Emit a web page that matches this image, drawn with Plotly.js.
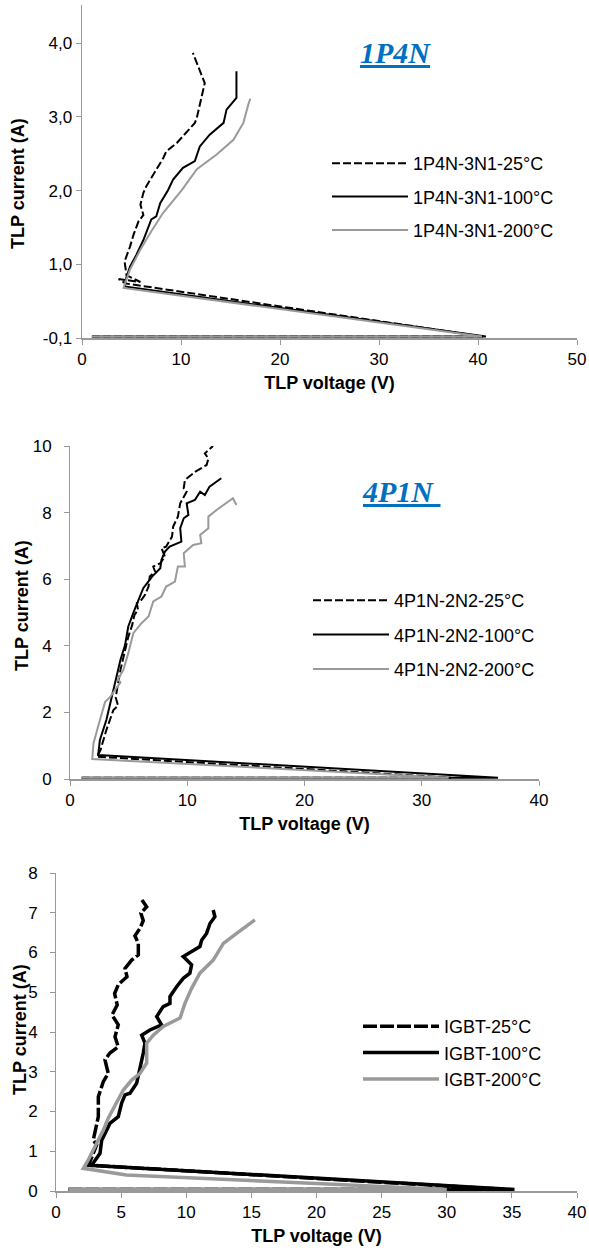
<!DOCTYPE html>
<html>
<head>
<meta charset="utf-8">
<script src="https://cdn.plot.ly/plotly-3.0.1.min.js"></script>
<style>html,body{margin:0;padding:0;background:#fff;}#chart{width:589px;height:1260px;}</style>
</head>
<body>
<div id="chart"></div>
<script>
// ---------- Chart 1: 1P4N ----------
const names1 = ["1P4N-3N1-25°C", "1P4N-3N1-100°C", "1P4N-3N1-200°C"];
const v1_25 = [1.0, 40.5, 4.4, 3.7, 5.9, 4.5, 4.3, 4.85, 5.2, 5.7, 6.2, 5.9, 6.2, 6.5, 6.9, 7.7, 8.2, 8.5, 9.6, 11.4, 11.6, 12.4, 11.2];
const i1_25 = [0.02, 0.02, 0.74, 0.80, 0.76, 0.85, 1.04, 1.24, 1.40, 1.58, 1.67, 1.81, 1.97, 2.06, 2.15, 2.33, 2.44, 2.53, 2.65, 2.92, 2.99, 3.46, 3.87];
const v1_100 = [1.0, 40.8, 4.3, 4.5, 4.85, 5.5, 6.2, 6.9, 7.0, 7.5, 7.9, 8.7, 9.2, 10.2, 11.4, 11.9, 12.9, 14.3, 14.6, 15.6, 15.6];
const i1_100 = [0.02, 0.02, 0.70, 0.83, 0.97, 1.13, 1.33, 1.56, 1.61, 1.65, 1.83, 2.01, 2.15, 2.31, 2.40, 2.60, 2.76, 2.92, 3.10, 3.26, 3.62];
const v1_200 = [1.0, 40.4, 4.2, 4.85, 5.9, 7.0, 8.2, 10.1, 11.6, 13.6, 15.3, 16.3, 16.8, 17.0];
const i1_200 = [0.02, 0.02, 0.68, 0.93, 1.20, 1.45, 1.70, 2.01, 2.29, 2.49, 2.69, 2.92, 3.17, 3.25];
const yTicks1 = [0, 1, 2, 3, 4];
const yTickText1 = ["-0,1", "1,0", "2,0", "3,0", "4,0"];

// ---------- Chart 2: 4P1N ----------
const names2 = ["4P1N-2N2-25°C", "4P1N-2N2-100°C", "4P1N-2N2-200°C"];
const v2_25 = [1.0, 32.5, 2.3, 2.6, 3.1, 3.7, 4.1, 3.9, 4.1, 4.3, 4.7, 4.97, 5.3, 5.5, 5.8, 5.7, 6.1, 6.4, 6.7, 6.8, 7.25, 7.1, 7.7, 8.1, 7.8, 8.2, 8.7, 8.8, 9.2, 9.4, 9.95, 9.7, 9.8, 10.7, 11.65, 11.8, 11.5, 12.2];
const i2_25 = [0.04, 0.04, 0.67, 0.87, 1.47, 2.07, 2.2, 2.45, 2.87, 3.27, 3.87, 4.27, 4.62, 4.93, 5.08, 5.28, 5.38, 5.53, 5.78, 6.08, 6.23, 6.38, 6.48, 6.68, 6.93, 6.98, 7.28, 7.58, 7.88, 8.28, 8.63, 8.73, 8.98, 9.23, 9.43, 9.62, 9.78, 10.0];
const v2_100 = [1.0, 36.5, 2.4, 2.55, 3.1, 3.55, 3.98, 4.3, 4.7, 4.97, 5.5, 6.25, 7.0, 7.7, 7.8, 8.1, 8.5, 9.5, 9.4, 9.7, 10.1, 9.95, 10.65, 11.1, 11.5, 11.9, 12.9];
const i2_100 = [0.04, 0.04, 0.72, 1.17, 1.77, 2.47, 3.07, 3.57, 4.03, 4.58, 5.08, 5.73, 6.08, 6.33, 6.58, 6.83, 6.98, 7.13, 7.53, 7.83, 7.93, 8.28, 8.38, 8.63, 8.53, 8.78, 9.03];
const v2_200 = [1.0, 32.3, 1.9, 2.0, 2.55, 3.0, 3.4, 3.7, 4.3, 4.1, 4.55, 4.97, 5.4, 6.1, 6.7, 7.1, 7.8, 8.2, 8.95, 9.2, 9.8, 9.7, 10.5, 11.2, 11.1, 11.8, 11.8, 12.5, 13.9, 14.2];
const i2_200 = [0.04, 0.04, 0.60, 1.07, 1.77, 2.32, 2.45, 2.60, 2.90, 3.00, 3.27, 3.78, 4.38, 4.68, 4.88, 5.33, 5.48, 5.78, 5.93, 6.38, 6.38, 6.78, 7.03, 7.08, 7.33, 7.53, 7.88, 8.08, 8.43, 8.23];

// ---------- Chart 3: IGBT ----------
const names3 = ["IGBT-25°C", "IGBT-100°C", "IGBT-200°C"];
const v3_25 = [0.95, 34.5, 2.5, 3.12, 2.86, 3.12, 3.25, 3.25, 3.63, 4.01, 3.76, 4.14, 4.78, 4.53, 4.78, 4.3, 4.7, 4.5, 4.8, 5.45, 5.3, 5.81, 6.32, 6.32, 6.06, 6.45, 6.7, 6.52, 6.96, 6.6];
const i3_25 = [0.04, 0.04, 0.65, 1.16, 1.28, 1.62, 1.87, 2.37, 2.75, 2.96, 3.30, 3.47, 3.63, 3.88, 4.18, 4.43, 4.68, 4.97, 5.20, 5.39, 5.60, 5.81, 5.94, 6.23, 6.42, 6.61, 6.80, 6.99, 7.15, 7.32];
const v3_100 = [0.95, 35.2, 2.5, 2.74, 3.38, 3.51, 3.89, 4.14, 4.78, 5.04, 5.3, 5.68, 6.19, 6.58, 6.7, 6.83, 6.58, 7.21, 8.11, 7.73, 8.23, 8.75, 8.75, 9.26, 9.77, 10.28, 10.41, 9.77, 10.54, 11.05, 11.18, 11.56, 11.82, 12.2, 12.07];
const i3_100 = [0.04, 0.04, 0.65, 0.65, 0.95, 1.28, 1.53, 1.70, 1.87, 2.21, 2.42, 2.46, 2.71, 3.25, 3.47, 3.72, 3.92, 4.05, 4.18, 4.39, 4.64, 4.72, 4.89, 5.14, 5.35, 5.48, 5.69, 5.90, 6.06, 6.15, 6.31, 6.48, 6.73, 6.90, 7.07];
const v3_200 = [0.95, 30.0, 18.7, 13.8, 5.4, 2.1, 2.48, 3.12, 3.63, 4.01, 4.66, 5.17, 5.81, 6.45, 6.96, 6.96, 7.47, 8.23, 9.52, 9.9, 10.41, 11.05, 12.07, 12.85, 13.87, 15.27];
const i3_200 = [0.04, 0.04, 0.21, 0.28, 0.40, 0.57, 0.78, 1.20, 1.53, 1.83, 2.21, 2.54, 2.79, 2.96, 3.22, 3.72, 3.92, 4.14, 4.35, 4.72, 5.10, 5.48, 5.81, 6.23, 6.48, 6.82];

const BLACK = "#000000", GRAY = "#9a9a9a";
const FONT = "Liberation Sans, Arial, sans-serif";

function tr(x, y, name, color, dash, width, xa, ya, leg, grp) {
  return {type: "scatter", mode: "lines", x: x, y: y, name: name,
    line: {color: color, dash: dash, width: width}, xaxis: xa, yaxis: ya,
    legend: leg, legendgroup: grp, hoverinfo: "skip"};
}

const data = [
  tr(v1_25, i1_25, names1[0], BLACK, "8px,3px", 2, "x", "y", "legend", "a1"),
  tr(v1_100, i1_100, names1[1], BLACK, "solid", 2, "x", "y", "legend", "b1"),
  tr(v1_200, i1_200, names1[2], GRAY, "solid", 2, "x", "y", "legend", "c1"),
  tr(v2_25, i2_25, names2[0], BLACK, "8px,3px", 2, "x2", "y2", "legend2", "a2"),
  tr(v2_100, i2_100, names2[1], BLACK, "solid", 2, "x2", "y2", "legend2", "b2"),
  tr(v2_200, i2_200, names2[2], GRAY, "solid", 2, "x2", "y2", "legend2", "c2"),
  tr(v3_25, i3_25, names3[0], BLACK, "14px,3px", 3.5, "x3", "y3", "legend3", "a3"),
  tr(v3_100, i3_100, names3[1], BLACK, "solid", 3.5, "x3", "y3", "legend3", "b3"),
  tr(v3_200, i3_200, names3[2], GRAY, "solid", 3.5, "x3", "y3", "legend3", "c3")
];

const H = 1260, W = 589;
const py = p => 1 - p / H;
const px = p => p / W;

function xax(dom, range, dtick, anchor) {
  return {domain: dom, range: range, dtick: dtick, tick0: 0, anchor: anchor,
    showgrid: false, zeroline: false, showline: true, linecolor: "#999", linewidth: 1.5,
    ticks: "outside", ticklen: 5, tickcolor: "#999", tickwidth: 1,
    tickfont: {family: FONT, size: 17, color: "#000"},
    title: {text: "<b>TLP voltage (V)</b>", font: {family: FONT, size: 18, color: "#000"}, standoff: 8}};
}
function yax(dom, range, anchor, extra) {
  return Object.assign({domain: dom, range: range, anchor: anchor,
    showgrid: false, zeroline: false, showline: true, linecolor: "#999", linewidth: 1.5,
    ticks: "outside", ticklen: 5, tickcolor: "#999", tickwidth: 1,
    tickfont: {family: FONT, size: 17, color: "#000"}}, extra);
}

const legendBase = {xanchor: "left", yanchor: "top", bgcolor: "rgba(0,0,0,0)",
  font: {family: FONT, size: 18, color: "#000"}, itemwidth: 76, traceorder: "grouped"};

function yTitle(cx, cy) {
  return {text: "<b>TLP current (A)</b>", xref: "paper", yref: "paper", x: px(cx), y: py(cy),
    xanchor: "center", yanchor: "middle", textangle: -90, showarrow: false,
    font: {family: FONT, size: 18, color: "#000"}};
}

const layout = {
  width: W, height: H, margin: {l: 0, r: 0, t: 0, b: 0},
  paper_bgcolor: "#fff", plot_bgcolor: "#fff", showlegend: true,
  xaxis: xax([px(82), px(577)], [0, 50], 10, "y"),
  yaxis: yax([py(338), py(5)], [0, 4.52], "x", {tickmode: "array", tickvals: yTicks1, ticktext: yTickText1}),
  xaxis2: xax([px(70), px(539)], [0, 40], 10, "y2"),
  yaxis2: yax([py(779), py(446)], [0, 10], "x2", {dtick: 2, ticksuffix: "\u2002"}),
  xaxis3: xax([px(56), px(577)], [0, 40], 5, "y3"),
  yaxis3: yax([py(1191), py(873)], [0, 8], "x3", {dtick: 1, ticksuffix: "\u2002"}),
  legend: Object.assign({}, legendBase, {x: px(327), y: py(145), tracegroupgap: 7}),
  legend2: Object.assign({}, legendBase, {x: px(308), y: py(582), tracegroupgap: 8}),
  legend3: Object.assign({}, legendBase, {x: px(358), y: py(1008), tracegroupgap: 0}),
  annotations: [
    {text: "<b><i><u>1P4N</u></i></b>", xref: "paper", yref: "paper", x: px(395), y: py(53),
     xanchor: "center", yanchor: "middle", showarrow: false,
     font: {family: "Liberation Serif, Times New Roman, serif", size: 30, color: "#0070C0"}},
    {text: "<b><i><u>4P1N\u00a0</u></i></b>", xref: "paper", yref: "paper", x: px(401), y: py(492),
     xanchor: "center", yanchor: "middle", showarrow: false,
     font: {family: "Liberation Serif, Times New Roman, serif", size: 30, color: "#0070C0"}},
    yTitle(18, 184), yTitle(22, 606), yTitle(20, 1030)
  ]
};

Plotly.newPlot("chart", data, layout, {staticPlot: true, displayModeBar: false});
</script>
</body>
</html>
